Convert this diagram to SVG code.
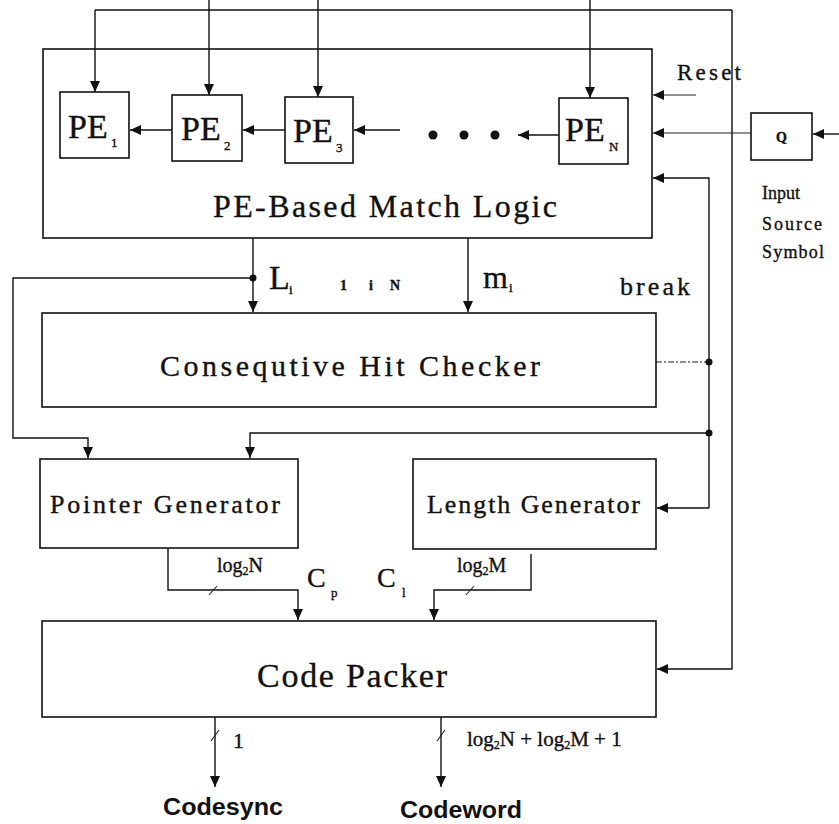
<svg xmlns="http://www.w3.org/2000/svg" width="839" height="824" viewBox="0 0 839 824">
  <style>
    .box { fill: #fff; stroke: #111; stroke-width: 1.6; }
    .wire { fill: none; stroke: #111; stroke-width: 1.4; }
    .thin { fill: none; stroke: #222; stroke-width: 1.1; }
    .dash { fill: none; stroke: #222; stroke-width: 1.1; stroke-dasharray: 6 2 2 2; }
    .serif { font-family: "Liberation Serif", "Times New Roman", serif; fill: #111; stroke: #111; stroke-width: 0.35; }
    .sans { font-family: "Liberation Sans", Arial, sans-serif; font-weight: bold; fill: #111; }
    .dot { fill: #111; }
  </style>
  <defs>
    <marker id="arrow" markerUnits="userSpaceOnUse" markerWidth="12" markerHeight="12" viewBox="0 0 12 12" refX="11" refY="6" orient="auto">
      <path d="M0,1 L11,6 L0,11 Z" fill="#111"/>
    </marker>
  </defs>

  <!-- connectors -->
  <g id="connectors">
    <!-- top control bus feeding each PE -->
    <path class="wire" d="M95,10 H732"/>
    <path class="wire" d="M95,10 V92" marker-end="url(#arrow)"/>
    <path class="wire" d="M209,0 V95" marker-end="url(#arrow)"/>
    <path class="wire" d="M318,0 V97" marker-end="url(#arrow)"/>
    <path class="wire" d="M590,0 V98" marker-end="url(#arrow)"/>
    <path class="wire" d="M732,10 V669 H657" marker-end="url(#arrow)"/>

    <!-- PE chain -->
    <path class="wire" d="M172,130 H130" marker-end="url(#arrow)"/>
    <path class="wire" d="M285,130 H243" marker-end="url(#arrow)"/>
    <path class="wire" d="M400,130 H354" marker-end="url(#arrow)"/>
    <path class="wire" d="M559,135 H518" marker-end="url(#arrow)"/>

    <!-- inputs on the right of the match logic -->
    <path class="thin" d="M696,95 H653" marker-end="url(#arrow)"/>
    <path class="thin" d="M751,133 H653" marker-end="url(#arrow)"/>
    <path class="wire" d="M839,134 H813" marker-end="url(#arrow)"/>

    <!-- break line -->
    <path class="wire" d="M709,508 V178 H653" marker-end="url(#arrow)"/>
    <path class="wire" d="M709,508 H657" marker-end="url(#arrow)"/>
    <path class="dash" d="M656,362 H709"/>
    <path class="wire" d="M709,433 H250 V458" marker-end="url(#arrow)"/>

    <!-- L_i and m_i -->
    <path class="wire" d="M253,238 V312" marker-end="url(#arrow)"/>
    <path class="wire" d="M468,238 V312" marker-end="url(#arrow)"/>
    <path class="wire" d="M253,278 H13 V438 H88 V458" marker-end="url(#arrow)"/>

    <!-- generator outputs -->
    <path class="wire" d="M168,548 V590 H298 V620" marker-end="url(#arrow)"/>
    <path class="wire" d="M531,554 V590 H434 V620" marker-end="url(#arrow)"/>
    <path class="thin" d="M209,595 L217,586"/>
    <path class="thin" d="M466,595 L474,586"/>

    <!-- packer outputs -->
    <path class="wire" d="M215,717 V787" marker-end="url(#arrow)"/>
    <path class="wire" d="M441,717 V787" marker-end="url(#arrow)"/>
    <path class="thin" d="M211,741 L219,730"/>
    <path class="thin" d="M437,741 L445,730"/>

    <!-- junctions -->
    <circle class="dot" cx="253" cy="278" r="3.5"/>
    <circle class="dot" cx="709" cy="362" r="3.5"/>
    <circle class="dot" cx="709" cy="433" r="3.5"/>
  </g>

  <!-- PE-based match logic -->
  <g id="match-logic">
    <rect class="box" x="43" y="49" width="609" height="189" style="fill:none"/>
    <text class="serif" x="213" y="217" font-size="32" textLength="344" lengthAdjust="spacing">PE-Based Match Logic</text>
    <circle class="dot" cx="433" cy="135" r="4.5"/>
    <circle class="dot" cx="464" cy="135" r="4.5"/>
    <circle class="dot" cx="495" cy="135" r="4.5"/>
  </g>

  <g id="pe1">
    <rect class="box" x="60" y="92" width="69" height="66"/>
    <text class="serif" x="68" y="138" font-size="34">PE</text>
    <text class="serif" x="111" y="147" font-size="13">1</text>
  </g>
  <g id="pe2">
    <rect class="box" x="172" y="95" width="70" height="66"/>
    <text class="serif" x="181" y="140" font-size="34">PE</text>
    <text class="serif" x="224" y="150" font-size="13">2</text>
  </g>
  <g id="pe3">
    <rect class="box" x="285" y="97" width="68" height="66"/>
    <text class="serif" x="293" y="142" font-size="34">PE</text>
    <text class="serif" x="336" y="152" font-size="13">3</text>
  </g>
  <g id="peN">
    <rect class="box" x="559" y="98" width="69" height="66"/>
    <text class="serif" x="565" y="141" font-size="34">PE</text>
    <text class="serif" x="609" y="151" font-size="13">N</text>
  </g>

  <g id="reset-label">
    <text class="serif" x="677" y="80" font-size="23" textLength="64" lengthAdjust="spacing">Reset</text>
  </g>

  <g id="q">
    <rect class="box" x="751" y="113" width="61" height="47"/>
    <text class="serif" x="781.5" y="142" font-size="14" font-weight="bold" text-anchor="middle">Q</text>
    <text class="serif" x="762" y="199" font-size="18" textLength="38" lengthAdjust="spacing">Input</text>
    <text class="serif" x="762" y="230" font-size="18" textLength="60" lengthAdjust="spacing">Source</text>
    <text class="serif" x="762" y="258" font-size="18" textLength="62" lengthAdjust="spacing">Symbol</text>
  </g>

  <g id="signal-labels">
    <text class="serif" x="269" y="289" font-size="34">L</text>
    <text class="serif" x="289" y="294" font-size="13">i</text>
    <text class="serif" x="340" y="290" font-size="14" font-weight="bold">1</text>
    <text class="serif" x="369" y="290" font-size="14" font-weight="bold">i</text>
    <text class="serif" x="390" y="290" font-size="14" font-weight="bold">N</text>
    <text class="serif" x="483" y="288" font-size="32">m</text>
    <text class="serif" x="509" y="292" font-size="13">i</text>
    <text class="serif" x="620" y="295" font-size="26" textLength="70" lengthAdjust="spacing">break</text>
  </g>

  <g id="hit-checker">
    <rect class="box" x="42" y="313" width="614" height="94"/>
    <text class="serif" x="160" y="376" font-size="30" textLength="380" lengthAdjust="spacing">Consequtive Hit Checker</text>
  </g>

  <g id="pointer-generator">
    <rect class="box" x="40" y="459" width="258" height="89"/>
    <text class="serif" x="50" y="513" font-size="26" textLength="230" lengthAdjust="spacing">Pointer Generator</text>
  </g>

  <g id="length-generator">
    <rect class="box" x="413" y="459" width="243" height="90"/>
    <text class="serif" x="427" y="513" font-size="26" textLength="213" lengthAdjust="spacing">Length Generator</text>
  </g>

  <g id="width-labels">
    <text class="serif" x="217" y="572" font-size="20">log<tspan font-size="12" dy="3">2</tspan><tspan dy="-3">N</tspan></text>
    <text class="serif" x="457" y="572" font-size="20">log<tspan font-size="12" dy="3">2</tspan><tspan dy="-3">M</tspan></text>
    <text class="serif" x="307" y="587" font-size="28">C</text>
    <text class="serif" x="331" y="597" font-size="13">p</text>
    <text class="serif" x="377" y="587" font-size="28">C</text>
    <text class="serif" x="402" y="597" font-size="13">l</text>
  </g>

  <g id="code-packer">
    <rect class="box" x="42" y="621" width="614" height="96"/>
    <text class="serif" x="257" y="687" font-size="34" textLength="190" lengthAdjust="spacing">Code Packer</text>
  </g>

  <g id="outputs">
    <text class="serif" x="233" y="748" font-size="22">1</text>
    <text class="serif" x="467" y="746" font-size="21">log<tspan font-size="12" dy="3">2</tspan><tspan dy="-3">N + log</tspan><tspan font-size="12" dy="3">2</tspan><tspan dy="-3">M  +  1</tspan></text>
    <text class="sans" x="163" y="815" font-size="23" textLength="120" lengthAdjust="spacingAndGlyphs">Codesync</text>
    <text class="sans" x="400" y="818" font-size="23" textLength="122" lengthAdjust="spacingAndGlyphs">Codeword</text>
  </g>
</svg>
